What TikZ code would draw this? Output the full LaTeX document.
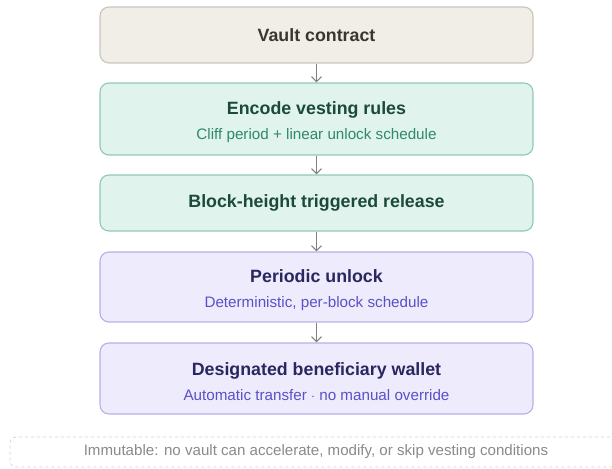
\documentclass[tikz,border=0pt]{standalone}
\usepackage{fontspec}
\setmainfont{Liberation Sans}
\usepackage{xcolor}
\usepackage{tikz}
\usetikzlibrary{arrows.meta,positioning}

\definecolor{vaultfill}{HTML}{F1EEE8}
\definecolor{vaultdraw}{HTML}{C9C5BD}
\definecolor{vaulttext}{HTML}{3A3530}
\definecolor{rulefill}{HTML}{E0F3EC}
\definecolor{ruledraw}{HTML}{8FCAB3}
\definecolor{ruletext}{HTML}{1B4A3B}
\definecolor{rulesub}{HTML}{2F8A68}
\definecolor{payfill}{HTML}{EEECFC}
\definecolor{paydraw}{HTML}{B5B0EA}
\definecolor{paytext}{HTML}{2A2660}
\definecolor{paysub}{HTML}{5A50C8}
\definecolor{linkgray}{HTML}{808080}
\definecolor{notedraw}{HTML}{D2D2D2}
\definecolor{notetext}{HTML}{898B86}

\newcommand{\titlef}{\fontsize{17.8}{25}\selectfont\bfseries}
\newcommand{\subf}{\fontsize{15.2}{25}\selectfont\mdseries}
\newcommand{\tstrut}{\rule{0pt}{19pt}}

\begin{document}
\begin{tikzpicture}[
  stepbox/.style={rectangle, draw, rounded corners=9pt, line width=1.1pt,
                  minimum width=433pt, align=center, inner sep=0pt,
                  font=\fontsize{15.2}{25}\selectfont},
  vaultbox/.style={stepbox, fill=vaultfill, draw=vaultdraw, text=vaulttext},
  rulebox/.style={stepbox, fill=rulefill, draw=ruledraw, text=ruletext},
  paybox/.style={stepbox, fill=payfill, draw=paydraw, text=paytext},
  notebox/.style={rectangle, draw=notedraw, dashed, rounded corners=6pt,
                  line width=0.8pt, minimum width=612pt, minimum height=30pt,
                  text=notetext, font=\fontsize{15.1}{18}\selectfont},
  arrow/.style={-{Straight Barb[length=5pt,width=10pt]}, line width=1.1pt, draw=linkgray}
]
\useasboundingbox (0,0) rectangle (612pt,468pt);
\node[vaultbox, minimum height=56pt] (vault) at (316.5pt, 433pt)
  {\titlef Vault contract};
\node[rulebox, minimum height=72pt] (encode) at (316.5pt, 349pt)
  {\titlef\tstrut Encode vesting rules\\\subf\color{rulesub}Cliff period + linear unlock schedule};
\node[rulebox, minimum height=56pt] (release) at (316.5pt, 265pt)
  {\titlef Block-height triggered release};
\node[paybox, minimum height=70pt] (unlock) at (316.5pt, 181pt)
  {\titlef\tstrut Periodic unlock\\\subf\color{paysub}Deterministic, per-block schedule};
\node[paybox, minimum height=71pt] (wallet) at (316.5pt, 89.5pt)
  {\titlef\tstrut Designated beneficiary wallet\\\subf\color{paysub}Automatic transfer $\cdot$ no manual override};
\draw[arrow] (vault) -- (encode);
\draw[arrow] (encode) -- (release);
\draw[arrow] (release) -- (unlock);
\draw[arrow] (unlock) -- (wallet);
\node[notebox] (note) at (316pt, 16pt)
  {Immutable: no vault can accelerate, modify, or skip vesting conditions};
\end{tikzpicture}
\end{document}
